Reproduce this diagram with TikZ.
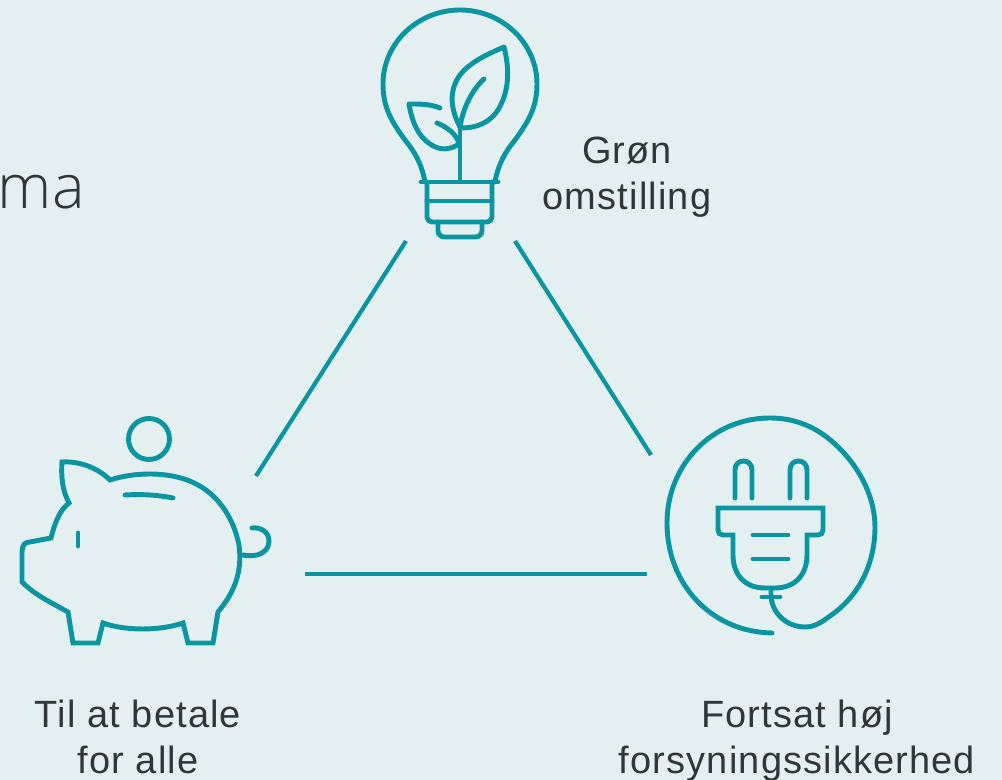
\documentclass[tikz,border=0pt]{standalone}
\usepackage{fontspec}
\setmainfont[LetterSpace=3]{Liberation Sans}
\newfontfamily\lightfont{Open Sans Light}
\definecolor{bgcol}{HTML}{E4EFF2}
\definecolor{tealcol}{HTML}{0B95A1}
\definecolor{txtcol}{HTML}{30373A}
\tikzset{
  iconline/.style={draw=tealcol, line width=1.4pt, line cap=round, line join=round},
  linkline/.style={draw=tealcol, line width=1.2pt},
  caption/.style={text=txtcol, font=\fontsize{10.8}{12}\selectfont, inner sep=0pt, anchor=base},
}
\begin{document}
\begin{tikzpicture}[x=0.01cm, y=-0.01cm]
  \fill[bgcol] (0,0) rectangle (1002,780);
  \useasboundingbox (0,0) rectangle (1002,780);
  % bulb
  \draw[iconline] (425,182) .. controls (422,165) and (415,152) .. (405,140)
    .. controls (392,122) and (383,108) .. (383,84)
    .. controls (383,43) and (418,10) .. (460,10)
    .. controls (502,10) and (537,43) .. (537,84)
    .. controls (537,108) and (528,122) .. (515,140)
    .. controls (505,152) and (498,165) .. (495,182);
  \draw[iconline] (421,182) -- (498,182);
  \draw[iconline, rounded corners=1.4pt] (427,182) -- (427,222) -- (492,222) -- (492,182);
  \draw[iconline] (427,201) -- (492,201);
  \draw[iconline, rounded corners=1.8pt] (438,222) -- (438,237) -- (482,237) -- (482,222);
  % sprout
  \draw[iconline] (460,181) -- (460,125);
  \draw[iconline] (460,127) .. controls (450,108) and (449,90) .. (460,75)
    .. controls (470,62) and (488,54) .. (504,47)
    .. controls (510,70) and (509,92) .. (498,110)
    .. controls (490,122) and (478,128) .. (461,128);
  \draw[iconline] (460,127) .. controls (463,108) and (472,90) .. (484,79);
  \draw[iconline] (440,108) .. controls (430,104) and (420,104) .. (409,104)
    .. controls (412,122) and (418,136) .. (430,144)
    .. controls (440,151) and (450,150) .. (459,144);
  \draw[iconline] (437,123) .. controls (447,127) and (456,134) .. (459,143);
  % pig
  \draw[iconline, line join=miter] (62,462) .. controls (80,461) and (98,468) .. (110,480)
    .. controls (135,472) and (165,472) .. (187,480)
    .. controls (215,490) and (233,515) .. (239,545)
    .. controls (243,575) and (232,595) .. (218,612)
    -- (213,643) -- (188,643) -- (183,623)
    .. controls (160,631) and (125,631) .. (103,623)
    -- (98,643) -- (73,643) -- (68,612)
    .. controls (50,602) and (35,595) .. (22,582)
    -- (22,552) .. controls (22,545) and (25,542) .. (30,542)
    -- (51,538) .. controls (55,522) and (60,510) .. (69,503)
    .. controls (62,490) and (61,475) .. (62,462) -- cycle;
  \draw[iconline] (78,533) -- (78,546);
  \draw[iconline] (125,495) .. controls (142,494) and (158,495) .. (173,498);
  \draw[iconline] (243,555) .. controls (258,558) and (269,552) .. (269,541)
    .. controls (269,532) and (261,527) .. (252,528);
  \draw[iconline] (149,439) circle (20.5);
  % plug
  \draw[iconline] (735,498) -- (735,470) .. controls (735,458) and (752,458) .. (752,470) -- (752,498);
  \draw[iconline] (790,498) -- (790,470) .. controls (790,458) and (807,458) .. (807,470) -- (807,498);
  \draw[iconline, line join=miter] (718,508) -- (823,508) -- (823,530)
    .. controls (823,533) and (821,535) .. (818,535) -- (807,535) -- (807,555)
    .. controls (807,575) and (795,588) .. (775,588) -- (765,588)
    .. controls (745,588) and (733,575) .. (733,555) -- (733,535) -- (723,535)
    .. controls (720,535) and (718,533) .. (718,530) -- cycle;
  \draw[iconline] (753,535) -- (788,535);
  \draw[iconline] (753,559) -- (788,559);
  \draw[iconline] (762,597) -- (780,597);
  \draw[iconline] (771,588) -- (771,597)
    .. controls (773,615) and (788,627) .. (805,627)
    .. controls (815,627) and (822,622) .. (830,616)
    .. controls (858,597) and (875,565) .. (875,527)
    .. controls (875,500) and (862,470) .. (838,447)
    .. controls (818,427) and (795,418) .. (770,418)
    .. controls (712,418) and (667,465) .. (667,523)
    .. controls (667,585) and (712,632) .. (772,633);
  % ends of the links
  \coordinate (bulbleft) at (406,241);
  \coordinate (bulbright) at (515,241);
  \coordinate (pigtop) at (256,476);
  \coordinate (pigright) at (305,574);
  \coordinate (plugtop) at (651,455);
  \coordinate (plugleft) at (647,574);
  \draw[linkline] (bulbleft) -- (pigtop);
  \draw[linkline] (bulbright) -- (plugtop);
  \draw[linkline] (pigright) -- (plugleft);
  % texts
  \node[text=txtcol, font=\lightfont\fontsize{17.5}{20}\selectfont, inner sep=0pt, anchor=base west] (headtail) at (-3,209) {ma};
  \node[caption] (gron) at (627,164) {Grøn};
  \node[caption] (omst) at (627,210) {omstilling};
  \node[caption] (betale) at (138,728) {Til at betale};
  \node[caption] (alle) at (138,774) {for alle};
  \node[caption] (fortsat) at (797,728) {Fortsat høj};
  \node[caption] (forsyning) at (797,774) {forsyningssikkerhed};
\end{tikzpicture}
\end{document}
